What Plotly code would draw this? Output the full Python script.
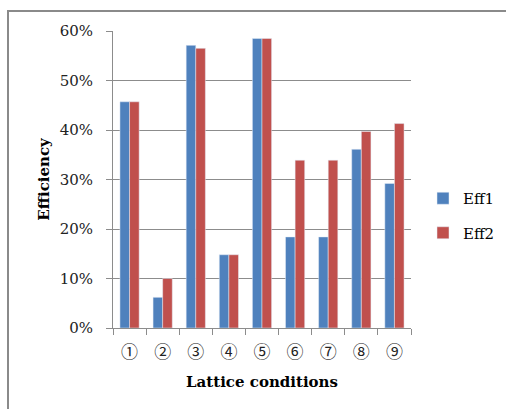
import plotly.graph_objects as go

categories = ["①", "②", "③", "④", "⑤", "⑥", "⑦", "⑧", "⑨"]
eff1 = [0.457, 0.062, 0.571, 0.148, 0.585, 0.184, 0.184, 0.361, 0.292]
eff2 = [0.457, 0.100, 0.565, 0.148, 0.585, 0.339, 0.339, 0.397, 0.413]
ytick_vals = [0, 0.1, 0.2, 0.3, 0.4, 0.5, 0.6]
ytick_text = ["0%", "10%", "20%", "30%", "40%", "50%", "60%"]

SERIF = "DejaVu Serif, Liberation Serif, serif"
GRID = "#8c8c8c"

fig = go.Figure()
fig.add_trace(go.Bar(x=categories, y=eff1, name="Eff1", marker_color="#4F81BD",
                     legendgroup="a"))
fig.add_trace(go.Bar(x=categories, y=eff2, name="Eff2", marker_color="#C0504D",
                     legendgroup="b"))

L, R, T, B = 113, 95, 31, 81
W, H = 506, 409
pw = W - L - R
ph = H - T - B

def px(x):
    return (x - L) / pw

def py(y):
    return (H - B - y) / ph

fig.update_layout(
    width=W, height=H,
    margin=dict(l=L, r=R, t=T, b=B),
    paper_bgcolor="white", plot_bgcolor="white",
    barmode="group", bargap=0.42, bargroupgap=0,
    font=dict(family=SERIF, color="#000000", size=14),
    legend=dict(xref="container", yref="container",
                x=423 / W, y=1 - 182 / H, xanchor="left", yanchor="top",
                font=dict(family=SERIF, size=15), tracegroupgap=12,
                itemwidth=30, bgcolor="rgba(0,0,0,0)"),
    shapes=[dict(type="rect", xref="paper", yref="paper",
                 x0=px(8), x1=px(560), y0=py(460), y1=py(11),
                 line=dict(color="#8a8a8a", width=2))],
)
fig.update_yaxes(
    range=[0, 0.6], tickvals=ytick_vals, ticktext=ytick_text,
    showgrid=True, gridcolor=GRID, gridwidth=1,
    showline=True, linecolor=GRID, linewidth=1,
    ticks="outside", ticklen=6, tickcolor=GRID,
    tickfont=dict(family=SERIF, size=15, color="#222"),
    ticklabelstandoff=10, zeroline=False,
    title=dict(text="<b>Efficiency</b>", font=dict(family=SERIF, size=15), standoff=6),
)
fig.update_xaxes(
    showline=True, linecolor=GRID, linewidth=1,
    ticks="outside", ticklen=6, tickcolor=GRID, tickson="boundaries",
    tickfont=dict(family="Noto Sans CJK JP, DejaVu Sans", size=17, color="#222"),
    ticklabelstandoff=9,
    title=dict(text="<b>Lattice conditions</b>", font=dict(family=SERIF, size=15), standoff=14),
)

fig.write_html("out.html", config={"displayModeBar": False},
               post_script="document.body.style.margin='0';document.body.style.overflow='hidden';")
